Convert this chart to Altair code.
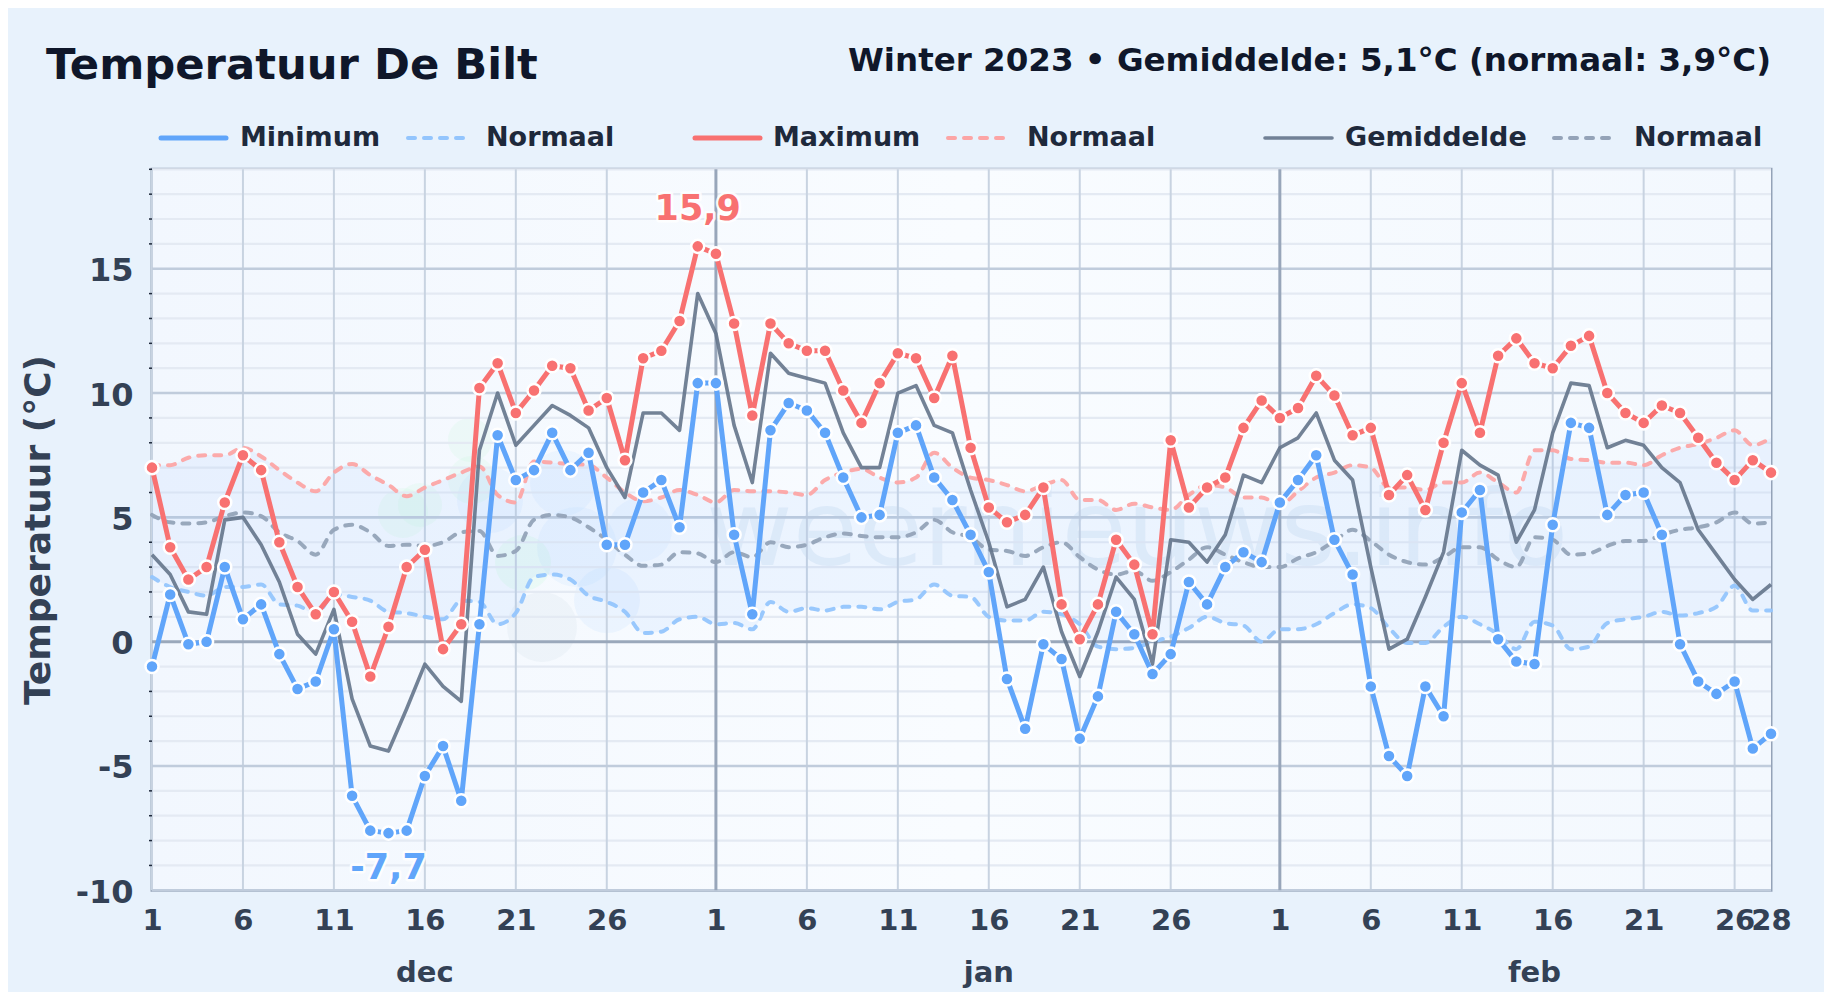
import altair as alt
import pandas as pd

# ---------- data ----------
T_MIN = [-1.0,1.9,-0.1,0.0,3.0,0.9,1.5,-0.5,-1.9,-1.6,0.5,-6.2,-7.6,-7.7,-7.6,-5.4,-4.2,-6.4,0.7,8.3,6.5,6.9,8.4,6.9,7.6,3.9,3.9,6.0,6.5,4.6,10.4,
         10.4,4.3,1.1,8.5,9.6,9.3,8.4,6.6,5.0,5.1,8.4,8.7,6.6,5.7,4.3,2.8,-1.5,-3.5,-0.1,-0.7,-3.9,-2.2,1.2,0.3,-1.3,-0.5,2.4,1.5,3.0,3.6,3.2,
         5.6,6.5,7.5,4.1,2.7,-1.8,-4.6,-5.4,-1.8,-3.0,5.2,6.1,0.1,-0.8,-0.9,4.7,8.8,8.6,5.1,5.9,6.0,4.3,-0.1,-1.6,-2.1,-1.6,-4.3,-3.7]
T_MAX = [7.0,3.8,2.5,3.0,5.6,7.5,6.9,4.0,2.2,1.1,2.0,0.8,-1.4,0.6,3.0,3.7,-0.3,0.7,10.2,11.2,9.2,10.1,11.1,11.0,9.3,9.8,7.3,11.4,11.7,12.9,15.9,
         15.6,12.8,9.1,12.8,12.0,11.7,11.7,10.1,8.8,10.4,11.6,11.4,9.8,11.5,7.8,5.4,4.8,5.1,6.2,1.5,0.1,1.5,4.1,3.1,0.3,8.1,5.4,6.2,6.6,8.6,9.7,
         9.0,9.4,10.7,9.9,8.3,8.6,5.9,6.7,5.3,8.0,10.4,8.4,11.5,12.2,11.2,11.0,11.9,12.3,10.0,9.2,8.8,9.5,9.2,8.2,7.2,6.5,7.3,6.8]
T_MEAN = [3.5,2.7,1.2,1.1,4.9,5.0,3.9,2.4,0.3,-0.5,1.3,-2.3,-4.2,-4.4,-2.7,-0.9,-1.8,-2.4,7.7,10.0,7.9,8.7,9.5,9.1,8.6,7.0,5.8,9.2,9.2,8.5,14.0,
          12.4,8.7,6.4,11.6,10.8,10.6,10.4,8.4,7.0,7.0,10.0,10.3,8.7,8.4,6.1,4.0,1.4,1.7,3.0,0.4,-1.4,0.4,2.6,1.7,-0.9,4.1,4.0,3.2,4.3,6.7,6.4,
          7.8,8.2,9.2,7.3,6.5,3.0,-0.3,0.1,1.8,3.6,7.7,7.1,6.7,4.0,5.3,8.4,10.4,10.3,7.8,8.1,7.9,7.0,6.4,4.5,3.5,2.5,1.7,2.3]
N_MAX = [7.1,7.1,7.4,7.5,7.5,7.8,7.45,6.9,6.4,6.05,6.8,7.15,6.7,6.3,5.85,6.2,6.5,6.8,7.05,5.9,5.6,7.25,7.2,7.15,7.1,6.6,6.0,5.65,5.8,6.1,5.9,
         5.6,6.1,6.05,6.05,6.0,5.9,6.5,6.8,6.95,6.6,6.4,6.6,7.6,7.0,6.6,6.5,6.3,6.05,6.3,6.5,5.7,5.7,5.3,5.55,5.4,5.3,5.9,6.3,6.2,5.8,5.8,
         5.5,6.05,6.6,6.8,7.1,7.0,6.2,6.2,6.1,6.4,6.4,6.8,6.4,6.0,7.7,7.7,7.35,7.3,7.2,7.2,7.1,7.5,7.8,7.95,8.2,8.5,7.9,8.2]
N_MIN = [2.6,2.2,2.0,1.85,2.2,2.2,2.3,1.5,1.45,1.1,1.9,1.8,1.65,1.2,1.15,1.0,0.9,1.65,1.6,0.7,1.15,2.6,2.7,2.5,1.85,1.6,1.2,0.35,0.4,0.9,1.0,
         0.7,0.75,0.5,1.6,1.2,1.35,1.25,1.4,1.4,1.3,1.6,1.7,2.3,1.85,1.8,1.0,0.85,0.85,1.2,1.1,0.7,-0.2,-0.3,-0.25,0.0,0.2,0.55,1.0,0.75,0.65,0.0,
         0.5,0.5,0.7,1.15,1.5,1.35,0.55,-0.05,-0.05,0.6,1.0,0.7,0.3,-0.3,0.8,0.65,-0.3,-0.2,0.75,0.9,1.0,1.2,1.05,1.15,1.4,2.25,1.25,1.25]
N_MEAN = [5.1,4.8,4.75,4.8,5.05,5.2,5.05,4.4,4.05,3.5,4.5,4.7,4.4,3.85,3.9,3.85,4.0,4.4,4.45,3.45,3.65,4.9,5.1,5.0,4.6,4.1,3.5,3.05,3.1,3.6,3.55,
          3.2,3.6,3.4,4.0,3.8,3.9,4.2,4.35,4.25,4.2,4.2,4.4,4.9,4.4,4.2,3.7,3.65,3.45,3.8,4.0,3.4,2.9,2.7,2.85,2.45,2.8,3.3,3.8,3.5,3.2,3.0,
          3.0,3.35,3.6,4.05,4.5,4.05,3.5,3.2,3.1,3.4,3.8,3.8,3.3,3.0,4.2,4.1,3.5,3.55,3.85,4.05,4.05,4.3,4.5,4.6,4.8,5.2,4.75,4.8]

TICK_POS = [0,5,10,15,20,25,31,36,41,46,51,56,62,67,72,77,82,87,89]
TICK_LABELS = ["1","6","11","16","21","26","1","6","11","16","21","26","1","6","11","16","21","26","28"]
MONTH_POS = [31, 62]
MONTH_NAMES = ["dec", "jan", "feb"]
MONTH_CENTERS = [15, 46, 76]
Y_LABELLED = [-10, -5, 0, 5, 10, 15]
Y_MAJOR = [-10, -5, 5, 10, 15]
Y_ZERO = [0]
Y_MINOR = [v for v in range(-10, 20) if v % 5 != 0]

TITLE = "Temperatuur De Bilt"
SUBTITLE = "Winter 2023 \u2022 Gemiddelde: 5,1\u00b0C (normaal: 3,9\u00b0C)"
YTITLE = "Temperatuur (\u00b0C)"
EXTREME_POS = [30, 13]
EXTREME_VAL = [15.9, -7.7]
EXTREME_TXT = ["15,9", "-7,7"]

LEGEND_LABELS = ["Minimum", "Normaal", "Maximum", "Normaal", "Gemiddelde", "Normaal"]

BG = "#e8f2fc"
W, H = 1619, 721
PAD_L, PAD_T = 144, 161
FONT = "DejaVu Sans"

df = pd.DataFrame({"d": range(90), "tmin": T_MIN, "tmax": T_MAX, "tmean": T_MEAN,
                   "nmin": N_MIN, "nmax": N_MAX, "nmean": N_MEAN})

xs = alt.Scale(domain=[0, 89], nice=False, zero=False)
ys = alt.Scale(domain=[-10, 19], nice=False, zero=False)
X = alt.X("d:Q", scale=xs, title=None)
Y = lambda f: alt.Y(f + ":Q", scale=ys, title=None)

label_map = "{" + ",".join(f'"{p}":"{l}"' for p, l in zip(TICK_POS, TICK_LABELS)) + "}"

# ---------- plot background + watermark ----------
plot_bg = alt.Chart(pd.DataFrame({"a": [0]})).mark_rect(
    color=alt.LinearGradient(gradient="linear", x1=0, x2=1, y1=0, y2=0, stops=[
        alt.GradientStop(offset=0, color="#f2f7fe"),
        alt.GradientStop(offset=0.5, color="#f9fcff"),
        alt.GradientStop(offset=1, color="#f3f8fe"),
    ])
).encode(x=alt.value(0), x2=alt.value(W), y=alt.value(0), y2=alt.value(H))


def blob(px, py, r, color, op):
    return alt.Chart(pd.DataFrame({"a": [0]})).mark_circle(color=color, opacity=op, size=4 * r * r).encode(
        x=alt.value(px - 152), y=alt.value(py - 169.3))


blobs = [
    blob(403, 513, 25, "#bbf7d0", 0.14), blob(420, 505, 22, "#bbf7d0", 0.14), blob(470, 440, 22, "#bbf7d0", 0.14),
    blob(472, 480, 24, "#bbf7d0", 0.14), blob(523, 563, 28, "#bbf7d0", 0.18),
    blob(490, 500, 33, "#93c5fd", 0.09), blob(563, 483, 33, "#93c5fd", 0.09), blob(577, 547, 40, "#93c5fd", 0.09),
    blob(542, 627, 35, "#94a3b8", 0.07), blob(607, 600, 33, "#93c5fd", 0.11), blob(640, 530, 32, "#93c5fd", 0.09),
]

watermark = alt.Chart(pd.DataFrame({"t": ["weernieuws.info"]})).mark_text(
    font=FONT, fontSize=106, color="#93b8e0", opacity=0.16, align="left", baseline="alphabetic"
).encode(text="t:N", x=alt.value(706 - 152), y=alt.value(565 - 169.3))

# ---------- grid ----------
def hrule(vals, color, width):
    return alt.Chart(pd.DataFrame({"v": vals})).mark_rule(color=color, strokeWidth=width).encode(
        y=alt.Y("v:Q", scale=ys, title=None))

def vrule(vals, color, width):
    return alt.Chart(pd.DataFrame({"v": vals})).mark_rule(color=color, strokeWidth=width).encode(
        x=alt.X("v:Q", scale=xs, title=None))

grid = [
    hrule(Y_MINOR, "#e4eaf3", 2.2),
    vrule([p for p in TICK_POS if p not in MONTH_POS and p != 89], "#c8d3e1", 2),
    hrule(Y_MAJOR, "#c0ccdc", 2.6),
    hrule(Y_ZERO, "#9aa8bb", 3),
    vrule(MONTH_POS, "#98a6ba", 3),
]

minor_ticks = alt.Chart(pd.DataFrame({"v": Y_MINOR})).mark_rule(color="#1e293b", strokeWidth=1.5).encode(
    y=alt.Y("v:Q", scale=ys, title=None), x=alt.value(-3), x2=alt.value(0))

# ---------- axes ----------
axis_layer = alt.Chart(df).mark_point(opacity=0).encode(
    x=alt.X("d:Q", scale=xs, title=None, axis=alt.Axis(
        values=TICK_POS, grid=False, domain=False, ticks=False,
        labelExpr=f"{label_map}[datum.value]", labelFont=FONT, labelFontWeight="bold",
        labelFontSize=29, labelColor="#334155", labelOverlap=False, labelPadding=16, labelFlush=False)),
    y=alt.Y("tmin:Q", scale=ys, title=None, axis=alt.Axis(
        values=Y_LABELLED, grid=False, domain=False, ticks=False,
        labelExpr="'' + datum.value", labelFont=FONT, labelFontWeight="bold", labelOffset=2,
        labelFontSize=32, labelColor="#334155", labelOverlap=False, labelPadding=19, labelFlush=False)),
)

month_text = alt.Chart(pd.DataFrame({"p": MONTH_CENTERS, "t": MONTH_NAMES})).mark_text(
    font=FONT, fontWeight="bold", fontSize=29, color="#334155", align="center", baseline="middle"
).encode(x=alt.X("p:Q", scale=xs, title=None), y=alt.value(973 - 169.3), text="t:N")

# ---------- series ----------
band = alt.Chart(df).mark_area(color="#60a5fa", opacity=0.08, interpolate="monotone").encode(
    x=X, y=Y("nmin"), y2="nmax:Q")

def dashed(f, color, op=0.95):
    return alt.Chart(df).mark_line(color=color, strokeWidth=4, strokeDash=[7, 9], strokeCap="round",
                                   interpolate="monotone", opacity=op).encode(x=X, y=Y(f))

def solid(f, color, w, op=1):
    return alt.Chart(df).mark_line(color=color, strokeWidth=w, strokeJoin="round", opacity=op).encode(x=X, y=Y(f))

def pts(f, color):
    return alt.Chart(df).mark_point(filled=True, shape="circle", size=170, fill=color, stroke="white",
                                    strokeWidth=2.5, opacity=1, fillOpacity=1).encode(x=X, y=Y(f))

def extreme(i, color, dy):
    d = pd.DataFrame({"p": [EXTREME_POS[i]], "v": [EXTREME_VAL[i]], "t": [EXTREME_TXT[i]]})
    base = dict(font=FONT, fontWeight="bold", fontSize=35, align="center", baseline="middle", dy=dy)
    enc = dict(x=alt.X("p:Q", scale=xs, title=None), y=alt.Y("v:Q", scale=ys, title=None), text="t:N")
    return [alt.Chart(d).mark_text(stroke="white", strokeWidth=5, strokeOpacity=0.85, strokeJoin="round", color="white", **base).encode(**enc),
            alt.Chart(d).mark_text(color=color, **base).encode(**enc)]

# ---------- header + legend ----------
def label(txt, px, py, size, color, align="left", weight="bold", angle=None):
    kw = dict(font=FONT, fontWeight=weight, fontSize=size, color=color, align=align, baseline="middle")
    if angle:
        kw["angle"] = angle
    return alt.Chart(pd.DataFrame({"t": [txt]})).mark_text(**kw).encode(
        text="t:N", x=alt.value(px - 152), y=alt.value(py - 169.3))

def leg_line(x0, x1, color, w, dash=None, op=1):
    kw = dict(color=color, strokeWidth=w, strokeCap="round", opacity=op)
    if dash:
        kw["strokeDash"] = dash
    return alt.Chart(pd.DataFrame({"a": [0]})).mark_rule(**kw).encode(
        x=alt.value(x0 - 152), x2=alt.value(x1 - 152), y=alt.value(138 - 169.3))

LEG_Y = 138
header = [
    label(TITLE, 46, 66, 43.3, "#0f172a"),
    label(SUBTITLE, 1771, 60.5, 32.5, "#0f172a", align="right"),
    label(YTITLE, 39, 530, 36, "#334155", align="center", angle=270),
    leg_line(161, 226, "#60a5fa", 5),
    label(LEGEND_LABELS[0], 240, LEG_Y, 27, "#1e293b"),
    leg_line(408, 463, "#93c5fd", 4, [7, 9]),
    label(LEGEND_LABELS[1], 486, LEG_Y, 27, "#1e293b"),
    leg_line(695, 760, "#f87171", 5),
    label(LEGEND_LABELS[2], 773, LEG_Y, 27, "#1e293b"),
    leg_line(948, 1004, "#fca5a5", 4, [7, 9]),
    label(LEGEND_LABELS[3], 1027, LEG_Y, 27, "#1e293b"),
    leg_line(1265, 1332, "#64748b", 3.6, op=0.9),
    label(LEGEND_LABELS[4], 1345, LEG_Y, 27, "#1e293b"),
    leg_line(1554, 1618, "#94a3b8", 4, [7, 9]),
    label(LEGEND_LABELS[5], 1634, LEG_Y, 27, "#1e293b"),
]

layers = [axis_layer, plot_bg] + blobs + [watermark] + grid + [minor_ticks, band,
    dashed("nmin", "#93c5fd"), dashed("nmax", "#fca5a5"), dashed("nmean", "#94a3b8"),
    solid("tmean", "#64748b", 3.6, 0.9),
    solid("tmin", "#60a5fa", 5), solid("tmax", "#f87171", 5),
    pts("tmin", "#60a5fa"), pts("tmax", "#f87171"),
    month_text] + extreme(0, "#f87171", -37) + extreme(1, "#60a5fa", 35) + header

chart = alt.layer(*layers).properties(
    width=W, height=H,
    padding={"left": PAD_L, "top": PAD_T + 0.3, "right": 1816 - PAD_L - W, "bottom": 984 - PAD_T - 0.3 - H},
    autosize=alt.AutoSizeParams(type="none"),
    background=BG,
).configure_view(stroke="#94a3b8", strokeWidth=3)

chart.save("out.html", embed_options={"renderer": "svg", "actions": False})
